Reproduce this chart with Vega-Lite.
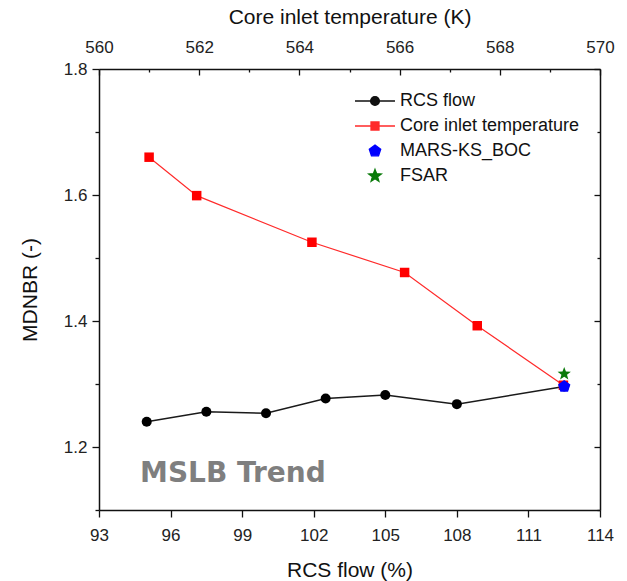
{
  "$schema": "https://vega.github.io/schema/vega-lite/v6.json",
  "width": 501,
  "height": 441,
  "autosize": "none",
  "padding": {"left": 99, "top": 69, "right": 27, "bottom": 71},
  "background": "white",
  "config": {
    "view": {"stroke": null},
    "font": "Liberation Sans",
    "axis": {
      "grid": false,
      "domainColor": "#111111",
      "domainWidth": 1.5,
      "tickColor": "#111111",
      "tickWidth": 1.3,
      "labelFont": "Liberation Sans",
      "labelFontSize": 17,
      "labelColor": "#222222",
      "labelFlush": false,
      "labelOverlap": false,
      "titleFont": "Liberation Sans",
      "titleFontSize": 21,
      "titleFontWeight": "normal",
      "titleColor": "#111111"
    }
  },
  "datasets": {
    "rcs": [
      {"flow": 95.0, "mdnbr": 1.240},
      {"flow": 97.5, "mdnbr": 1.256},
      {"flow": 100.0, "mdnbr": 1.2535},
      {"flow": 102.5, "mdnbr": 1.277},
      {"flow": 105.0, "mdnbr": 1.2825},
      {"flow": 108.0, "mdnbr": 1.268},
      {"flow": 112.5, "mdnbr": 1.296}
    ],
    "core": [
      {"temp": 561.0, "mdnbr": 1.660},
      {"temp": 561.95, "mdnbr": 1.599},
      {"temp": 564.25, "mdnbr": 1.525},
      {"temp": 566.1, "mdnbr": 1.477},
      {"temp": 567.55, "mdnbr": 1.3925},
      {"temp": 569.27, "mdnbr": 1.298}
    ],
    "mars": [{"case": "MARS-KS_BOC", "flow": 112.5, "mdnbr": 1.296}],
    "fsar": [{"case": "FSAR", "flow": 112.5, "mdnbr": 1.316}],
    "series": [
      {"series": "RCS flow"},
      {"series": "Core inlet temperature"},
      {"series": "MARS-KS_BOC"},
      {"series": "FSAR"}
    ]
  },
  "layer": [
    {
      "layer": [
        {
          "data": {"name": "rcs"},
          "mark": {"type": "line", "color": "#1a1a1a", "strokeWidth": 1.5},
          "encoding": {
            "x": {
              "field": "flow",
              "type": "quantitative",
              "scale": {"domain": [93, 114], "nice": false, "zero": false},
              "axis": {
                "orient": "bottom",
                "values": [93, 94.5, 96, 97.5, 99, 100.5, 102, 103.5, 105, 106.5, 108, 109.5, 111, 112.5, 114],
                "labelExpr": "abs((datum.value - 93) % 3) < 0.001 ? datum.label : ''",
                "tickSize": {"condition": {"test": "abs((datum.value - 93) % 3) < 0.001", "value": 7}, "value": 4},
                "labelPadding": 10,
                "title": "RCS flow (%)",
                "titleX": 250.5,
                "titleY": 60,
                "titleAlign": "center",
                "titleBaseline": "middle"
              }
            },
            "y": {
              "field": "mdnbr",
              "type": "quantitative",
              "scale": {"domain": [1.1, 1.8], "nice": false, "zero": false},
              "axis": {
                "orient": "left",
                "values": [1.1, 1.2, 1.3, 1.4, 1.5, 1.6, 1.7, 1.8],
                "labelExpr": "abs(datum.value * 5 - round(datum.value * 5)) < 0.001 ? format(datum.value, '.1f') : ''",
                "tickSize": {"condition": {"test": "abs(datum.value * 5 - round(datum.value * 5)) < 0.001", "value": 7}, "value": 4},
                "labelPadding": 5,
                "title": "MDNBR (-)",
                "titleX": -69,
                "titleY": 220.5,
                "titleAngle": -90,
                "titleAlign": "center",
                "titleBaseline": "middle"
              }
            }
          }
        },
        {
          "data": {"name": "rcs"},
          "mark": {"type": "point", "shape": "circle", "filled": true, "color": "#000000", "size": 100, "opacity": 1},
          "encoding": {
            "x": {"field": "flow", "type": "quantitative"},
            "y": {"field": "mdnbr", "type": "quantitative", "scale": {"domain": [1.1, 1.8], "nice": false, "zero": false}}
          }
        },
        {
          "data": {"name": "series"},
          "mark": {"type": "point", "filled": true, "opacity": 0},
          "encoding": {
            "color": {
              "field": "series",
              "type": "nominal",
              "scale": {
                "domain": ["RCS flow", "Core inlet temperature", "MARS-KS_BOC", "FSAR"],
                "range": ["#111111", "#ff2a2a", "#0000ff", "#0a7a0a"]
              },
              "legend": {
                "title": null,
                "orient": "none",
                "legendX": 260.5,
                "legendY": 16.5,
                "padding": 0,
                "symbolSize": 870,
                "symbolStrokeWidth": 1.3,
                "symbolOffset": 0,
                "labelOffset": 9.5,
                "labelLimit": 400,
                "rowPadding": 0,
                "labelFont": "Liberation Sans",
                "labelFontSize": 18,
                "labelColor": "#111111",
                "encode": {
                  "symbols": {
                    "update": {
                      "fill": {"scale": "color", "field": "value"},
                      "stroke": {"scale": "color", "field": "value"},
                      "strokeWidth": {"value": 1.3},
                      "opacity": {"value": 1}
                    }
                  }
                }
              }
            },
            "shape": {
              "field": "series",
              "type": "nominal",
              "scale": {
                "domain": ["RCS flow", "Core inlet temperature", "MARS-KS_BOC", "FSAR"],
                "range": [
                  "M-1.356,0L1.356,0M-0.298,0A0.298,0.298 0 1,1 0.298,0A0.298,0.298 0 1,1 -0.298,0Z",
                  "M-1.356,0L1.356,0M-0.271,-0.271L0.271,-0.271L0.271,0.271L-0.271,0.271Z",
                  "M0,-0.407L0.387,-0.126L0.239,0.329L-0.239,0.329L-0.387,-0.126Z",
                  "M0,-0.447L0.110,-0.152L0.425,-0.138L0.178,0.058L0.263,0.362L0,0.188L-0.263,0.362L-0.178,0.058L-0.425,-0.138L-0.110,-0.152Z"
                ]
              },
              "legend": {
                "title": null,
                "orient": "none",
                "legendX": 260.5,
                "legendY": 16.5,
                "padding": 0,
                "symbolSize": 870,
                "symbolStrokeWidth": 1.3,
                "symbolOffset": 0,
                "labelOffset": 9.5,
                "labelLimit": 400,
                "rowPadding": 0,
                "labelFont": "Liberation Sans",
                "labelFontSize": 18,
                "labelColor": "#111111"
              }
            }
          }
        }
      ]
    },
    {
      "data": {"name": "core"},
      "encoding": {
        "x": {
          "field": "temp",
          "type": "quantitative",
          "scale": {"domain": [560, 570], "nice": false, "zero": false},
          "axis": {
            "orient": "top",
            "values": [560, 561, 562, 563, 564, 565, 566, 567, 568, 569, 570],
            "labelExpr": "datum.value % 2 == 0 ? datum.label : ''",
            "tickSize": {"condition": {"test": "datum.value % 2 == 0", "value": -6}, "value": -3},
            "labelPadding": 19,
            "title": "Core inlet temperature (K)",
            "titleX": 250.5,
            "titleY": -52,
            "titleAlign": "center",
            "titleBaseline": "middle"
          }
        },
        "y": {
          "field": "mdnbr",
          "type": "quantitative",
          "scale": {"domain": [1.1, 1.8], "nice": false, "zero": false},
          "axis": {
            "orient": "right",
            "values": [1.1, 1.2, 1.3, 1.4, 1.5, 1.6, 1.7, 1.8],
            "labels": false,
            "tickSize": {"condition": {"test": "abs(datum.value * 5 - round(datum.value * 5)) < 0.001", "value": -6}, "value": -3},
            "title": null
          }
        }
      },
      "layer": [
        {"mark": {"type": "line", "color": "#ff2a2a", "strokeWidth": 1.2}},
        {"mark": {"type": "point", "shape": "square", "filled": true, "color": "#ff0000", "size": 90, "opacity": 1}}
      ]
    },
    {
      "layer": [
        {
          "data": {"name": "fsar"},
          "mark": {
            "type": "point",
            "filled": true,
            "color": "#0a7a0a",
            "size": 196,
            "opacity": 1,
            "shape": "M0,-1L0.247,-0.34L0.951,-0.309L0.399,0.13L0.588,0.809L0,0.42L-0.588,0.809L-0.399,0.13L-0.951,-0.309L-0.247,-0.34Z"
          },
          "encoding": {
            "x": {"field": "flow", "type": "quantitative", "scale": {"domain": [93, 114], "nice": false, "zero": false}, "axis": null},
            "y": {"field": "mdnbr", "type": "quantitative", "scale": {"domain": [1.1, 1.8], "nice": false, "zero": false}, "axis": null}
          }
        },
        {
          "data": {"name": "mars"},
          "mark": {
            "type": "point",
            "filled": true,
            "color": "#0000ff",
            "size": 169,
            "opacity": 1,
            "shape": "M0,-1L0.951,-0.309L0.588,0.809L-0.588,0.809L-0.951,-0.309Z"
          },
          "encoding": {
            "x": {"field": "flow", "type": "quantitative"},
            "y": {"field": "mdnbr", "type": "quantitative", "scale": {"domain": [1.1, 1.8], "nice": false, "zero": false}, "axis": null}
          }
        },
        {
          "data": {"values": [{"label": "MSLB Trend"}]},
          "mark": {
            "type": "text",
            "font": "DejaVu Sans",
            "fontSize": 28,
            "fontWeight": "bold",
            "color": "#7f7f7f",
            "align": "left",
            "baseline": "alphabetic"
          },
          "encoding": {
            "text": {"field": "label"},
            "x": {"datum": 94.72, "type": "quantitative"},
            "y": {"datum": 1.1445, "type": "quantitative", "scale": {"domain": [1.1, 1.8], "nice": false, "zero": false}, "axis": null}
          }
        }
      ]
    }
  ],
  "resolve": {"scale": {"x": "independent"}, "axis": {"y": "independent"}}
}
